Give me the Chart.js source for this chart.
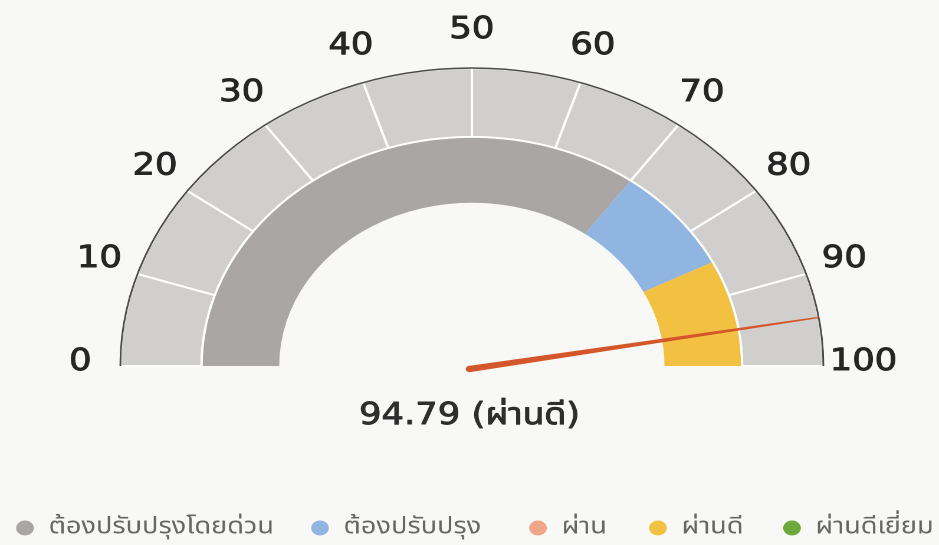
<!DOCTYPE html>
<html>
<head>
<meta charset="utf-8">
<script src="https://cdn.jsdelivr.net/npm/chart.js@4.4.1/dist/chart.umd.min.js"></script>
<style>
  html, body { margin: 0; padding: 0; background: #f8f8f6; overflow: hidden; }
  /* the reference is stretched horizontally, so the chart is drawn narrow and widened */
  #wrap { position: absolute; left: 0; top: 0; width: 796px; height: 545px;
          transform: scaleX(1.1796); transform-origin: 0 0; }
</style>
</head>
<body>
<div id="wrap"><canvas id="gauge"></canvas></div>
<script>
const tickLabels = ['0', '10', '20', '30', '40', '50', '60', '70', '80', '90', '100'];
const scaleSegments = [10, 10, 10, 10, 10, 10, 10, 10, 10, 10];

const bandNames = ['ต้องปรับปรุงโดยด่วน', 'ต้องปรับปรุง', 'ผ่าน', 'ผ่านดี', 'ผ่านดีเยี่ยม'];
const bandWidths = [70, 15, 0, 15, 0];
const bandColors = ['#aaa6a5', '#8fb5e0', '#efa587', '#f3c142', '#6caa3c'];

const score = 94.79;
const scoreText = '94.79 (ผ่านดี)';

const SX = 1.1796;
const FONT = "'DejaVu Sans', 'Noto Sans Thai', sans-serif";

// text with a thin outline, the scanned labels are heavier than the regular face
function boldText(ctx, txt, x, y, w) {
    ctx.lineWidth = w;
    ctx.strokeStyle = ctx.fillStyle;
    ctx.strokeText(txt, x, y);
    ctx.fillText(txt, x, y);
}

const gaugeDecor = {
    id: 'gaugeDecor',
    afterDatasetsDraw(chart) {
        const ctx = chart.ctx;
        const arc = chart.getDatasetMeta(0).data[0];
        const cx = arc.x, cy = arc.y, R = arc.outerRadius;
        ctx.save();

        // dark rim
        ctx.beginPath();
        ctx.arc(cx, cy, R, Math.PI, 2 * Math.PI);
        ctx.strokeStyle = '#4a4a4a';
        ctx.lineWidth = 1.5;
        ctx.stroke();

        // scale numbers
        ctx.fillStyle = '#262626';
        ctx.font = '30px ' + FONT;
        ctx.textAlign = 'center';
        ctx.textBaseline = 'middle';
        ctx.lineJoin = 'round';
        const n = tickLabels.length - 1;
        tickLabels.forEach((t, i) => {
            const a = Math.PI + (i / n) * Math.PI;
            const r = R + 34;
            boldText(ctx, t, cx + r * Math.cos(a), cy - 4 + r * Math.sin(a), 0.9);
        });

        // needle
        const a = Math.PI + (score / 100) * Math.PI;
        const tx = cx + R * Math.cos(a), ty = cy + R * Math.sin(a);
        const bx = cx - 2, by = cy + 3;
        const px = -Math.sin(a), py = Math.cos(a);
        ctx.fillStyle = '#d4562b';
        ctx.beginPath();
        ctx.moveTo(bx + 3.2 * px, by + 3.2 * py);
        ctx.lineTo(tx + 0.7 * px, ty + 0.7 * py);
        ctx.lineTo(tx - 0.7 * px, ty - 0.7 * py);
        ctx.lineTo(bx - 3.2 * px, by - 3.2 * py);
        ctx.closePath();
        ctx.fill();
        ctx.beginPath();
        ctx.arc(bx, by, 3.2, 0, 2 * Math.PI);
        ctx.fill();

        // score text
        ctx.fillStyle = '#2e2e2e';
        ctx.font = '30px ' + FONT;
        boldText(ctx, scoreText, cx - 2, cy + 50, 0.9);

        // legend
        const ly = chart.height - 16;
        const dotX = [25, 320, 538, 658, 792].map(v => v / SX);
        ctx.textAlign = 'left';
        ctx.font = "23px 'Noto Sans Thai', " + FONT;
        bandNames.forEach((name, i) => {
            ctx.fillStyle = bandColors[i];
            ctx.beginPath();
            ctx.arc(dotX[i], ly - 1, 7.5, 0, 2 * Math.PI);
            ctx.fill();
            ctx.fillStyle = '#666';
            ctx.fillText(name, dotX[i] + 20, ly);
        });
        ctx.restore();
    }
};

new Chart(document.getElementById('gauge'), {
    type: 'doughnut',
    data: {
        labels: tickLabels.slice(1),
        datasets: [
            {
                data: scaleSegments,
                backgroundColor: '#d1cfce',
                borderColor: '#ffffff',
                borderWidth: 2,
                weight: 69
            },
            {
                data: bandWidths,
                backgroundColor: bandColors,
                borderWidth: 0,
                weight: 66
            }
        ]
    },
    options: {
        responsive: true,
        maintainAspectRatio: false,
        devicePixelRatio: 2,
        animation: false,
        rotation: -90,
        circumference: 180,
        cutout: '54.8%',
        layout: { padding: { top: 67, bottom: 178, left: 4, right: 0 } },
        plugins: {
            legend: { display: false },
            tooltip: { enabled: false }
        }
    },
    plugins: [gaugeDecor]
});
</script>
</body>
</html>
